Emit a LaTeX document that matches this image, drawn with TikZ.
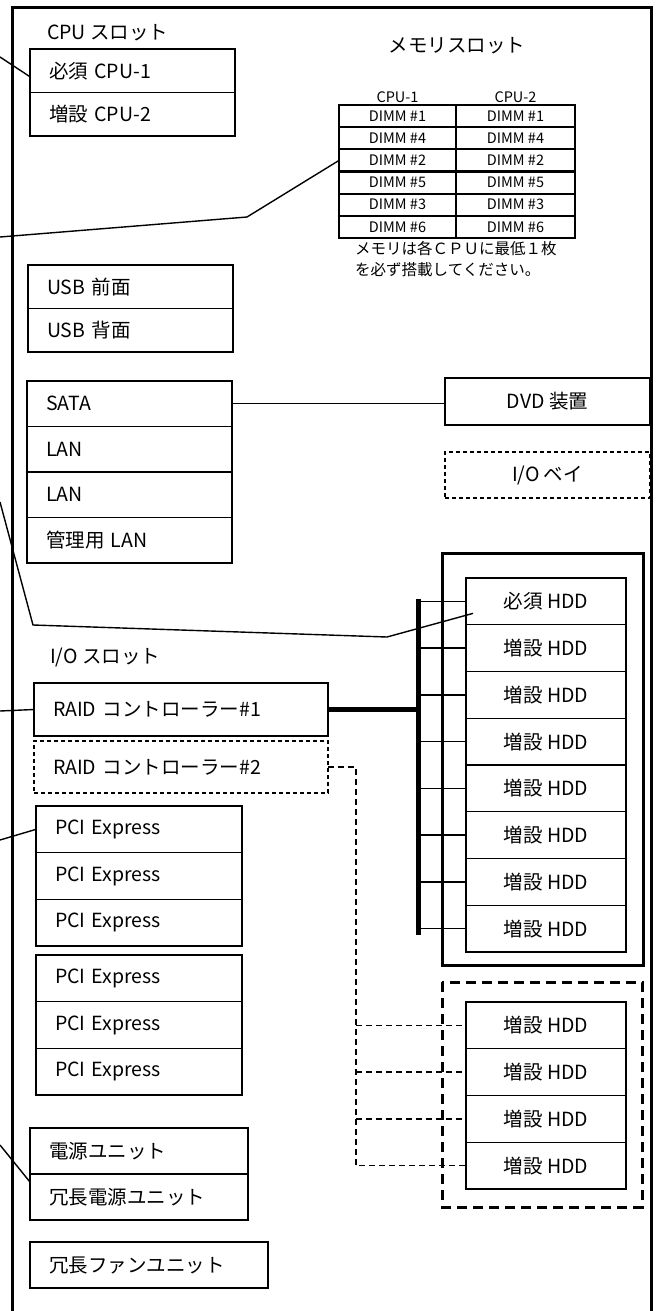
\documentclass[tikz,border=0pt]{standalone}
\usepackage{fontspec}
\setmainfont{Noto Sans CJK JP}
\usetikzlibrary{positioning}
\usetikzlibrary{calc}

\newcommand{\mainsize}{\fontsize{19.5}{22}\selectfont}
\newcommand{\tablesize}{\fontsize{14.5}{16}\selectfont}
\newcommand{\notesize}{\fontsize{15.5}{21}\selectfont}

\tikzset{
  slot/.style={draw, line width=1.4pt, outer sep=0pt, inner xsep=19pt, inner ysep=0pt, align=left, font=\mainsize},
  dev/.style={draw, line width=1.4pt, outer sep=0pt, inner sep=0pt, font=\mainsize},
  hdd/.style={dev, minimum width=160pt, minimum height=46.75pt},
  dimm/.style={draw, line width=2.2pt, outer sep=0pt, inner sep=0pt, minimum height=22.17pt, font=\tablesize},
  optional/.style={dash pattern=on 4pt off 3pt},
  wire/.style={line width=1.4pt},
  thickwire/.style={line width=4.5pt},
  bus/.style={line width=5pt},
  dashwire/.style={line width=1.4pt, dash pattern=on 6pt off 4pt},
  bay/.style={line width=3pt},
  dashbay/.style={line width=3pt, dash pattern=on 10pt off 6pt},
  frame/.style={line width=3pt}
}

\begin{document}
\begin{tikzpicture}[x=1pt, y=-1pt]
    \useasboundingbox (0,0) rectangle (658,1311);
    \clip (0,0) rectangle (658,1311);
    % CPU
    \node[anchor=west, inner sep=0pt, font=\mainsize] (cpulbl) at (47,33) {CPU スロット} ; %
    \node[slot, text width=167pt, minimum height=43.5pt, anchor=north west] (cpu1) at (30,49) {必須 CPU-1} ; %
    \node[slot, text width=167pt, minimum height=43.5pt, below=0pt of cpu1] (cpu2) {増設 CPU-2} ; %
    % memory
    \node[font=\mainsize] (memlbl) at (457,46) {メモリスロット} ; %
    \node[dimm, minimum width=117pt, anchor=north west] (dimmA1) at (339,105) {DIMM \#1} ; %
    \node[dimm, minimum width=119pt, right=0pt of dimmA1] (dimmB1) {DIMM \#1} ; %
    \node[dimm, minimum width=117pt, below=0pt of dimmA1] (dimmA4) {DIMM \#4} ; %
    \node[dimm, minimum width=119pt, below=0pt of dimmB1] (dimmB4) {DIMM \#4} ; %
    \node[dimm, minimum width=117pt, below=0pt of dimmA4] (dimmA2) {DIMM \#2} ; %
    \node[dimm, minimum width=119pt, below=0pt of dimmB4] (dimmB2) {DIMM \#2} ; %
    \node[dimm, minimum width=117pt, below=0pt of dimmA2] (dimmA5) {DIMM \#5} ; %
    \node[dimm, minimum width=119pt, below=0pt of dimmB2] (dimmB5) {DIMM \#5} ; %
    \node[dimm, minimum width=117pt, below=0pt of dimmA5] (dimmA3) {DIMM \#3} ; %
    \node[dimm, minimum width=119pt, below=0pt of dimmB5] (dimmB3) {DIMM \#3} ; %
    \node[dimm, minimum width=117pt, below=0pt of dimmA3] (dimmA6) {DIMM \#6} ; %
    \node[dimm, minimum width=119pt, below=0pt of dimmB3] (dimmB6) {DIMM \#6} ; %
    \node[font=\tablesize, inner sep=1pt, above=1pt of dimmA1] (hdrA) {CPU-1} ; %
    \node[font=\tablesize, inner sep=1pt, above=1pt of dimmB1] (hdrB) {CPU-2} ; %
    \node[font=\notesize, align=left, inner sep=0pt, anchor=north west] (note) at (355,241) {メモリは各ＣＰＵに最低１枚\\を必ず搭載してください。} ; %
    % USB, SATA, LAN
    \node[slot, text width=167pt, minimum height=43.5pt, anchor=north west] (usb1) at (28,265) {USB 前面} ; %
    \node[slot, text width=167pt, minimum height=43.5pt, below=0pt of usb1] (usb2) {USB 背面} ; %
    \node[slot, text width=167pt, minimum height=45.5pt, anchor=north west] (sata) at (27,381) {SATA} ; %
    \node[slot, text width=167pt, minimum height=45.5pt, below=0pt of sata] (lan1) {LAN} ; %
    \node[slot, text width=167pt, minimum height=45.5pt, below=0pt of lan1] (lan2) {LAN} ; %
    \node[slot, text width=167pt, minimum height=45.5pt, below=0pt of lan2] (mlan) {管理用 LAN} ; %
    \node[dev, minimum width=205pt, minimum height=47pt, anchor=north west] (dvd) at (445,378) {DVD 装置} ; %
    \node[dev, optional, minimum width=205pt, minimum height=46pt, anchor=north west] (iobay) at (445,452) {I/O ベイ} ; %
    % I/O slots
    \node[anchor=west, inner sep=0pt, font=\mainsize] (iolbl) at (50,657) {I/O スロット} ; %
    \node[slot, text width=256pt, minimum height=53pt, anchor=north west] (raid1) at (34,683) {RAID コントローラー\#1} ; %
    \node[slot, optional, text width=256pt, minimum height=52pt, below=5pt of raid1] (raid2) {RAID コントローラー\#2} ; %
    \node[slot, text width=168pt, minimum height=46.67pt, anchor=north west] (pci1) at (36,806) {PCI Express} ; %
    \node[slot, text width=168pt, minimum height=46.67pt, below=0pt of pci1] (pci2) {PCI Express} ; %
    \node[slot, text width=168pt, minimum height=46.67pt, below=0pt of pci2] (pci3) {PCI Express} ; %
    \node[slot, text width=168pt, minimum height=46.67pt, below=9pt of pci3] (pci4) {PCI Express} ; %
    \node[slot, text width=168pt, minimum height=46.67pt, below=0pt of pci4] (pci5) {PCI Express} ; %
    \node[slot, text width=168pt, minimum height=46.67pt, below=0pt of pci5] (pci6) {PCI Express} ; %
    % power, fan
    \node[slot, text width=180pt, minimum height=46pt, anchor=north west] (pwr1) at (30,1128) {電源ユニット} ; %
    \node[slot, text width=180pt, minimum height=46pt, below=0pt of pwr1] (pwr2) {冗長電源ユニット} ; %
    \node[slot, text width=200pt, minimum height=46pt, anchor=north west] (fan) at (30,1242) {冗長ファンユニット} ; %
    % HDD bays
    \node[hdd, anchor=north west] (hdd1) at (466,578) {必須 HDD} ; %
    \node[hdd, below=0pt of hdd1] (hdd2) {増設 HDD} ; %
    \node[hdd, below=0pt of hdd2] (hdd3) {増設 HDD} ; %
    \node[hdd, below=0pt of hdd3] (hdd4) {増設 HDD} ; %
    \node[hdd, below=0pt of hdd4] (hdd5) {増設 HDD} ; %
    \node[hdd, below=0pt of hdd5] (hdd6) {増設 HDD} ; %
    \node[hdd, below=0pt of hdd6] (hdd7) {増設 HDD} ; %
    \node[hdd, below=0pt of hdd7] (hdd8) {増設 HDD} ; %
    \node[hdd, anchor=north west] (hdd9) at (466,1002) {増設 HDD} ; %
    \node[hdd, below=0pt of hdd9] (hdd10) {増設 HDD} ; %
    \node[hdd, below=0pt of hdd10] (hdd11) {増設 HDD} ; %
    \node[hdd, below=0pt of hdd11] (hdd12) {増設 HDD} ; %
    \draw[bay] (442,553) rectangle (643,965);
    \draw[dashbay] (442,982) rectangle (642,1207);
    % connectors
    \coordinate (cpuend) at (0,57);
    \coordinate (dimmend) at (0,237);
    \coordinate (dimmbend) at (247,217);
    \coordinate (hddend) at (0,502);
    \coordinate (hddbendA) at (33,625);
    \coordinate (hddbendB) at (387,637);
    \coordinate (raidend) at (0,711);
    \coordinate (pciend) at (0,840);
    \coordinate (pwrend) at (0,1145);
    \coordinate (busx) at (418,0);
    \coordinate (dbusx) at (356,0);
    \draw[wire] (cpuend) -- ($(cpu1.west)+(0,6)$);
    \draw[wire] (dimmend) -- (dimmbend) -- (dimmA2.west);
    \draw[wire] (hddend) -- (hddbendA) -- (hddbendB) -- ($(hdd1.west)+(7,12)$);
    \draw[wire] (raidend) -- (raid1.west);
    \draw[wire] (pciend) -- (pci1.west);
    \draw[wire] (pwrend) -- ($(pwr2.north west)+(0,8)$);
    \draw[wire] (sata.east) -- (sata.east -| dvd.west);
    \draw[thickwire] (raid1.east) -- (raid1.east -| busx);
    \draw[bus] ($(hdd1.west -| busx)+(0,-2)$) -- ($(hdd8.west -| busx)+(0,6)$);
    \draw[wire] (hdd1.west -| busx) -- (hdd1.west);
    \draw[wire] (hdd2.west -| busx) -- (hdd2.west);
    \draw[wire] (hdd3.west -| busx) -- (hdd3.west);
    \draw[wire] (hdd4.west -| busx) -- (hdd4.west);
    \draw[wire] (hdd5.west -| busx) -- (hdd5.west);
    \draw[wire] (hdd6.west -| busx) -- (hdd6.west);
    \draw[wire] (hdd7.west -| busx) -- (hdd7.west);
    \draw[wire] (hdd8.west -| busx) -- (hdd8.west);
    \draw[dashwire] (raid2.east) -| (hdd12.west -| dbusx) -- (hdd12.west);
    \draw[dashwire] (hdd9.west -| dbusx) -- (hdd9.west);
    \draw[dashwire] (hdd10.west -| dbusx) -- (hdd10.west);
    \draw[dashwire] (hdd11.west -| dbusx) -- (hdd11.west);
    % chassis
    \draw[frame] (12,1330) -- (12,8) -- (651,8) -- (651,1330);
  \end{tikzpicture}
\end{document}
